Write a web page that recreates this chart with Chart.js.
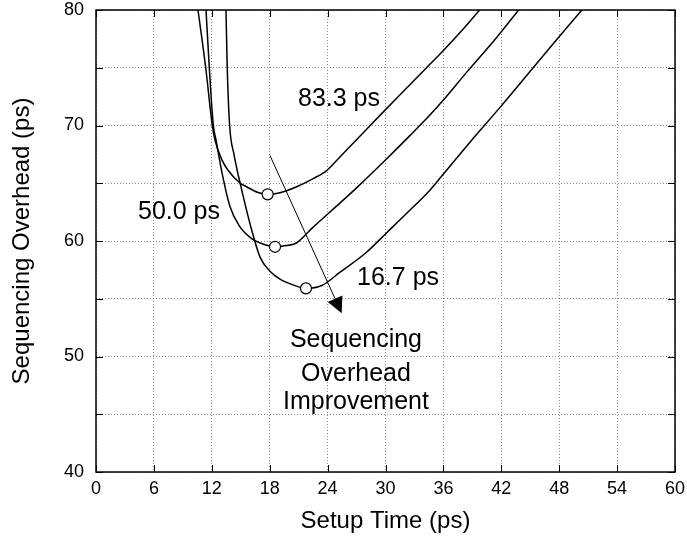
<!DOCTYPE html>
<html>
<head>
<meta charset="utf-8">
<script src="https://cdn.jsdelivr.net/npm/chart.js@4/dist/chart.umd.min.js"></script>
<style>
html,body{margin:0;padding:0;background:#fff;}
#wrap{width:687px;height:548px;}
</style>
</head>
<body>
<div id="wrap"><canvas id="c" width="687" height="548"></canvas></div>
<script>
// ---- data ----
const xTickValues = [0, 6, 12, 18, 24, 30, 36, 42, 48, 54, 60];
const yTickValues = [40, 45, 50, 55, 60, 65, 70, 75, 80];
const yLabelledTicks = [40, 50, 60, 70, 80];

// 83.3 ps curve
const upperX = [10.57, 11.37, 12.05, 12.33, 13.06, 13.7, 14.92, 15.6, 16.8, 17.79, 19.07, 20.8, 22.5, 23.9, 25.3, 26.7, 29.8, 32.5, 34.6, 36.0, 38.1, 39.75];
const upperY = [80, 75.0, 70.0, 68.74, 67.0, 66.1, 65.02, 64.7, 64.2, 64.04, 64.18, 64.7, 65.4, 66.1, 67.3, 68.5, 71.2, 73.5, 75.3, 76.5, 78.4, 80];

// 50.0 ps curve
const middleX = [11.4, 11.74, 12.16, 12.44, 13.06, 13.9, 14.9, 16.1, 17.3, 18.55, 19.4, 20.8, 22.5, 25.3, 27.0, 30.1, 32.5, 34.6, 36.0, 38.4, 41.5, 43.8];
const middleY = [80, 75, 70, 68.74, 65.89, 62.94, 61.24, 60.23, 59.74, 59.5, 59.57, 59.85, 61.2, 63.3, 64.6, 67.1, 69.1, 70.9, 72.2, 74.6, 77.6, 80];

// 16.7 ps curve
const lowerX = [13.47, 13.6, 13.85, 14.3, 15.1, 16.13, 17.0, 18.0, 19.07, 20.41, 21.76, 23.4, 25.3, 28.0, 30.1, 32.2, 34.6, 36.0, 38.8, 42.0, 45.3, 47.9, 50.35];
const lowerY = [80, 75, 70, 67.5, 64.42, 60.95, 58.6, 57.4, 56.7, 56.2, 55.9, 56.15, 57.3, 59.0, 60.7, 62.4, 64.4, 65.8, 68.6, 71.7, 75.0, 77.6, 80];

// minimum points (open circles)
const minX = [17.79, 18.55, 21.76];
const minY = [64.04, 59.5, 55.9];

// arrow (start / tip) in data units
const arrowStart = [18.03, 67.4];
const arrowTip = [25.46, 53.74];

// text annotations: [text, x, y(baseline)]
const labelTexts = ['83.3 ps', '50.0 ps', '16.7 ps', 'Sequencing', 'Overhead', 'Improvement'];
const labelX = [25.18, 8.6, 31.3, 26.94, 26.94, 26.94];
const labelY = [71.69, 61.88, 56.19, 50.82, 47.9, 45.43];

const xTitle = 'Setup Time (ps)';
const yTitle = 'Sequencing Overhead (ps)';

// ---- build ----
const toPts = (xs, ys) => xs.map((x, i) => ({x: x, y: ys[i]}));
const FONT = "'Liberation Sans', Arial, Helvetica, sans-serif";

const curveStyle = {
  borderColor: '#000', borderWidth: 1.5, pointRadius: 0, fill: false,
  cubicInterpolationMode: 'monotone', showLine: true
};

const framePlugin = {
  id: 'frameAndNotes',
  afterDatasetsDraw(chart) {
    const ctx = chart.ctx;
    const xs = chart.scales.x, ys = chart.scales.y;
    ctx.save();
    // arrow
    const x0 = xs.getPixelForValue(arrowStart[0]), y0 = ys.getPixelForValue(arrowStart[1]);
    const x1 = xs.getPixelForValue(arrowTip[0]), y1 = ys.getPixelForValue(arrowTip[1]);
    const ang = Math.atan2(y1 - y0, x1 - x0);
    const hl = 16, hw = 8;
    const bx = x1 - hl * Math.cos(ang), by = y1 - hl * Math.sin(ang);
    ctx.strokeStyle = '#000'; ctx.lineWidth = 1;
    ctx.beginPath(); ctx.moveTo(x0, y0); ctx.lineTo(bx, by); ctx.stroke();
    ctx.fillStyle = '#000';
    ctx.beginPath();
    ctx.moveTo(x1, y1);
    ctx.lineTo(bx + hw * Math.sin(ang), by - hw * Math.cos(ang));
    ctx.lineTo(bx - hw * Math.sin(ang), by + hw * Math.cos(ang));
    ctx.closePath(); ctx.fill();

    // labels
    ctx.font = '25px ' + FONT;
    ctx.textAlign = 'center';
    ctx.textBaseline = 'alphabetic';
    labelTexts.forEach((t, i) => {
      ctx.fillText(t, xs.getPixelForValue(labelX[i]), ys.getPixelForValue(labelY[i]));
    });
    ctx.restore();
  },
  afterDraw(chart) {
    const ctx = chart.ctx;
    const a = chart.chartArea;
    const xs = chart.scales.x, ys = chart.scales.y;
    ctx.save();
    ctx.strokeStyle = '#000';
    ctx.lineWidth = 1.5;
    ctx.strokeRect(a.left, a.top, a.right - a.left, a.bottom - a.top);
    const tl = 7;
    ctx.lineWidth = 1;
    ctx.beginPath();
    xTickValues.forEach(v => {
      const p = Math.round(xs.getPixelForValue(v)) + 0.5;
      ctx.moveTo(p, a.bottom); ctx.lineTo(p, a.bottom - tl);
      ctx.moveTo(p, a.top); ctx.lineTo(p, a.top + tl);
    });
    yTickValues.forEach(v => {
      const p = Math.round(ys.getPixelForValue(v)) + 0.5;
      ctx.moveTo(a.left, p); ctx.lineTo(a.left + tl, p);
      ctx.moveTo(a.right, p); ctx.lineTo(a.right - tl, p);
    });
    ctx.stroke();
    ctx.restore();
  }
};

new Chart(document.getElementById('c'), {
  type: 'scatter',
  data: {
    datasets: [
      { label: 'minima', data: toPts(minX, minY), showLine: false, pointRadius: 5.5,
        pointBackgroundColor: '#fff', pointBorderColor: '#000', pointBorderWidth: 1.2 },
      Object.assign({ label: '83.3 ps', data: toPts(upperX, upperY) }, curveStyle),
      Object.assign({ label: '50.0 ps', data: toPts(middleX, middleY) }, curveStyle),
      Object.assign({ label: '16.7 ps', data: toPts(lowerX, lowerY) }, curveStyle)
    ]
  },
  options: {
    responsive: false,
    animation: false,
    devicePixelRatio: 1,
    layout: { padding: { top: 10, right: 12, left: 0, bottom: 0 } },
    plugins: { legend: { display: false }, tooltip: { enabled: false } },
    scales: {
      x: {
        type: 'linear', min: 0, max: 60,
        afterBuildTicks: s => { s.ticks = xTickValues.map(v => ({value: v})); },
        afterFit: s => { s.height = 76; s.paddingLeft = 0; s.paddingRight = 0; },
        ticks: { color: '#000', font: { family: FONT, size: 18, lineHeight: 1 }, padding: 8, maxRotation: 0,
                 callback: v => String(v) },
        grid: { color: '#8a8a8a', lineWidth: 1, drawTicks: false },
        border: { display: false, dash: [1, 2] },
        title: { display: true, text: xTitle, color: '#000', font: { family: FONT, size: 24 },
                 padding: { top: 0, bottom: 12 } }
      },
      y: {
        type: 'linear', min: 40, max: 80,
        afterBuildTicks: s => { s.ticks = yTickValues.map(v => ({value: v})); },
        afterFit: s => { s.width = 96; s.paddingTop = 0; s.paddingBottom = 0; },
        ticks: { color: '#000', font: { family: FONT, size: 18, lineHeight: 1 }, padding: 12,
                 callback: v => (yLabelledTicks.includes(v) ? String(v) : '') },
        grid: { color: '#8a8a8a', lineWidth: 1, drawTicks: false },
        border: { display: false, dash: [1, 2] },
        title: { display: true, text: yTitle, color: '#000', font: { family: FONT, size: 24 },
                 padding: { top: 8, bottom: 0 } }
      }
    }
  },
  plugins: [framePlugin]
});
</script>
</body>
</html>
